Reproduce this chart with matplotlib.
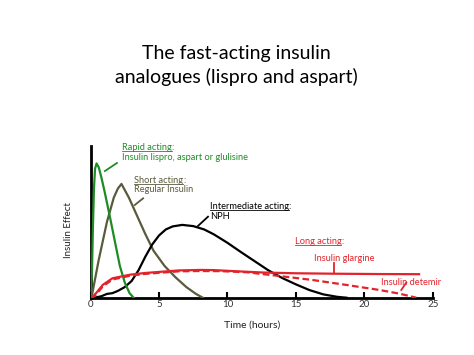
import matplotlib
matplotlib.use("Agg")
import matplotlib.pyplot as plt
from matplotlib.lines import Line2D
from matplotlib.transforms import IdentityTransform

plt.rcParams["font.family"] = ["Lato", "DejaVu Sans"]

# ── Data ────────────────────────────────────────────────────────────────
rapid_t = [0, 0.1, 0.17, 0.25, 0.33, 0.44, 0.6, 0.8, 1.05, 1.4, 1.78, 2.14, 2.5, 2.85, 3.15]
rapid_y = [0, 0.15, 0.45, 0.72, 0.85, 0.885, 0.86, 0.79, 0.69, 0.54, 0.37, 0.21, 0.10, 0.03, 0]

short_t = [0.07, 0.6, 1.2, 1.7, 2.0, 2.26, 2.8, 3.4, 4.0, 4.6, 5.4, 6.2, 7.0, 7.7, 8.2]
short_y = [0, 0.25, 0.50, 0.66, 0.72, 0.75, 0.66, 0.54, 0.42, 0.31, 0.21, 0.135, 0.07, 0.025, 0]

nph_t = [0.3, 0.8, 1.2, 1.6, 2.0, 2.5, 3.0, 3.5, 4.0, 4.5, 5.0, 5.5, 6.0, 6.7, 7.5, 8.3,
         9.0, 10.0, 11.0, 12.0, 13.0, 14.0, 15.0, 16.0, 17.0, 18.0, 18.7]
nph_y = [0, 0.01, 0.025, 0.03, 0.045, 0.07, 0.11, 0.18, 0.27, 0.35, 0.41, 0.45, 0.47, 0.48,
         0.472, 0.45, 0.418, 0.362, 0.30, 0.24, 0.18, 0.13, 0.088, 0.05, 0.022, 0.006, 0]

glargine_t = [0, 0.2, 0.45, 0.9, 1.6, 2.9, 4.0, 5.3, 6.5, 8.0, 9.0, 10.5, 12.6, 15.0, 18.0, 21.0, 24.0]
glargine_y = [0, 0.01, 0.035, 0.085, 0.128, 0.152, 0.163, 0.172, 0.18, 0.183, 0.182, 0.175, 0.166, 0.161, 0.158, 0.156, 0.155]

detemir_t = [0, 0.2, 0.45, 0.9, 1.6, 2.9, 4.0, 5.3, 6.5, 8.0, 9.5, 11.4, 13.8, 16.2, 18.7, 21.1, 22.6, 23.8]
detemir_y = [0, 0.005, 0.025, 0.075, 0.12, 0.145, 0.157, 0.166, 0.174, 0.176, 0.175, 0.168, 0.143, 0.117, 0.084, 0.051, 0.026, 0]

xticks = [0, 5, 10, 15, 20, 25]

GREEN = "#1e8c24"
OLIVE = "#5a5a3c"
RED = "#e3232c"


def underlined(ax, x, y, label, color, size):
    # underlined heading followed by a plain colon
    t = ax.text(x, y, label, color=color, fontsize=size, va="baseline", ha="left")
    ax.annotate(":", xy=(1, 0), xycoords=t, va="bottom", ha="left",
                color=color, fontsize=size)
    return t


fig = plt.figure(figsize=(4.74, 3.55), dpi=100)
ax = fig.add_axes([0.191, 0.1614, 0.722, 0.4273])

ax.plot(rapid_t, rapid_y, color=GREEN, lw=1.6, zorder=4)
ax.plot(short_t, short_y, color=OLIVE, lw=1.6, zorder=3)
ax.plot(nph_t, nph_y, color="black", lw=1.6, zorder=3)
ax.plot(glargine_t, glargine_y, color=RED, lw=1.6, zorder=5)
ax.plot(detemir_t, detemir_y, color=RED, lw=1.6, ls=(0, (3, 1.5)), zorder=5)

ax.set_xlim(0, 25)
ax.set_ylim(0, 1)
for s in ["top", "right"]:
    ax.spines[s].set_visible(False)
for s in ["left", "bottom"]:
    ax.spines[s].set_linewidth(2.0)
ax.set_xticks(xticks)
ax.set_yticks([])
ax.tick_params(axis="x", direction="in", length=4, width=1.5, labelsize=7,
               labelcolor="#333333", pad=2)
ax.set_xlabel("Time (hours)", fontsize=7.5, color="#222222")
ax.xaxis.set_label_coords(0.471, -0.15)
ax.set_ylabel("Insulin Effect", fontsize=7, color="#222222")
ax.yaxis.set_label_coords(-0.05, 0.446)

fs = 6.7
heads = [
    underlined(ax, 2.31, 0.974, "Rapid acting", GREEN, fs),
    underlined(ax, 3.17, 0.758, "Short acting", OLIVE, fs),
    underlined(ax, 8.71, 0.583, "Intermediate acting", "black", fs),
    underlined(ax, 14.91, 0.354, "Long acting", RED, fs),
]
ax.text(2.31, 0.905, "Insulin lispro, aspart or glulisine", color=GREEN, fontsize=fs, va="baseline")
ax.text(3.17, 0.695, "Regular Insulin", color=OLIVE, fontsize=fs, va="baseline")
ax.text(8.71, 0.517, "NPH", color="black", fontsize=fs, va="baseline")
ax.text(16.32, 0.244, "Insulin glargine", color=RED, fontsize=fs, va="baseline")
ax.text(21.19, 0.084, "Insulin detemir", color=RED, fontsize=fs, va="baseline")

# leader lines from labels to curves
ax.plot([1.05, 1.93], [0.835, 0.888], color=GREEN, lw=1.3, clip_on=False)
ax.plot([3.23, 3.84], [0.611, 0.655], color=OLIVE, lw=1.3, clip_on=False)
ax.plot([7.85, 8.58], [0.473, 0.534], color="black", lw=1.3, clip_on=False)
ax.plot([17.76, 17.76], [0.165, 0.227], color=RED, lw=1.3, clip_on=False)
ax.plot([22.7, 23.07], [0.051, 0.1], color=RED, lw=1.3, clip_on=False)

fig.text(0.498, 0.833, "The fast-acting insulin", ha="center", va="baseline", fontsize=14)
fig.text(0.498, 0.765, "analogues (lispro and aspart)", ha="center", va="baseline", fontsize=14)

# draw the underlines once text extents are known
fig.canvas.draw()
renderer = fig.canvas.get_renderer()
for t in heads:
    bb = t.get_window_extent(renderer)
    yb = ax.transData.transform((0, t.get_position()[1]))[1] - 1.2
    fig.add_artist(Line2D([bb.x0, bb.x1], [yb, yb], color=t.get_color(), lw=0.6,
                          transform=IdentityTransform()))

fig.savefig("out.png", dpi=100)
